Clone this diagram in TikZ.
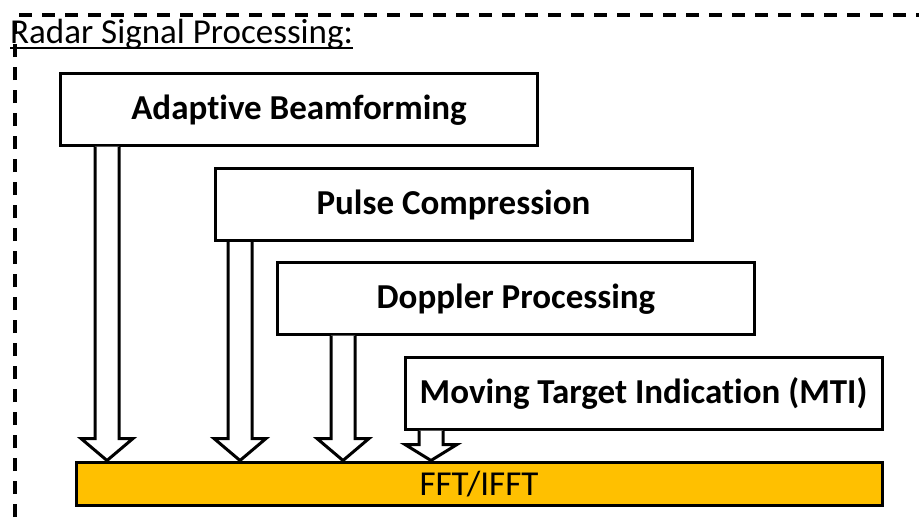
\documentclass[tikz,border=0pt]{standalone}
\usepackage{fontspec}
\setmainfont[Ligatures=NoCommon]{Carlito}
\usetikzlibrary{calc}
\definecolor{fftorange}{HTML}{FFC000}
\tikzset{
  procbox/.style={draw=black, line width=3pt, fill=white, minimum width=477pt, minimum height=72pt, inner sep=0pt, font=\fontsize{35}{40}\selectfont\bfseries},
  fftbox/.style={draw=black, line width=3pt, fill=fftorange, minimum width=806pt, minimum height=43pt, inner sep=0pt, font=\fontsize{35}{40}\selectfont},
  barrow/.style={draw=black, line width=3pt, fill=white, line join=miter},
  frame/.style={draw=black, line width=3.5pt, dash pattern=on 13pt off 10pt},
}
\newcommand\blockarr[5]{%
\draw[barrow] let \p1=(#2.south), \p2=(#3.north) in
 (#1pt-12pt,\y1) -- (#1pt-12pt,\y2+#4pt) -- (#1pt-#5pt,\y2+#4pt) -- (#1pt,\y2) -- (#1pt+#5pt,\y2+#4pt) -- (#1pt+12pt,\y2+#4pt) -- (#1pt+12pt,\y1);}
\newcommand\lowered[2]{\raisebox{-#1pt}[0pt][0pt]{#2}}
\begin{document}
\begin{tikzpicture}[x=1pt,y=-1pt]
\useasboundingbox (0,0) rectangle (919,525);
\draw[frame] (15,1000) -- (15,15) -- (1000,15);
\node[anchor=base west, inner sep=0pt, font=\fontsize{35}{40}\selectfont] (title) at (10,43) {Radar Signal Processing:};
\draw[line width=2pt] ([yshift=-5pt]title.base west) -- ([yshift=-5pt]title.base east);
\node[procbox] (ab) at (299,109) {\lowered{10}{Adaptive Beamforming}};
\node[procbox] (pc) at (453.5,204.5) {\lowered{10}{Pulse Compression}};
\node[procbox] (dp) at (516,298) {\lowered{10}{Doppler Processing}};
\node[procbox] (mti) at (643.5,393) {\lowered{10}{Moving Target Indication (MTI)}};
\node[fftbox] (fft) at (479,483.5) {\lowered{12}{FFT/IFFT}};
\blockarr{107}{ab}{fft}{22}{26}
\blockarr{240}{pc}{fft}{22}{26}
\blockarr{343}{dp}{fft}{22}{26}
\blockarr{431}{mti}{fft}{16}{26}
\end{tikzpicture}
\end{document}
